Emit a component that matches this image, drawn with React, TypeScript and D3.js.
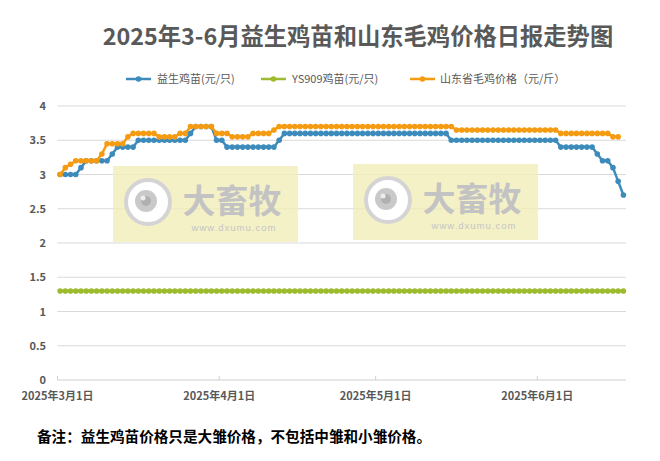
import React from "react";
import * as d3 from "d3";

// daily series, 2025-03-01 onward
const START = new Date(2025, 2, 1);
const END = new Date(2025, 5, 18);

const chickBlue = [
  3.0, 3.0, 3.0, 3.0, 3.1, 3.2, 3.2, 3.2, 3.2, 3.2,
  3.3, 3.4, 3.4, 3.4, 3.4, 3.5, 3.5, 3.5, 3.5, 3.5,
  3.5, 3.5, 3.5, 3.5, 3.5, 3.6, 3.7, 3.7, 3.7, 3.7,
  3.5, 3.5, 3.4, 3.4, 3.4, 3.4, 3.4, 3.4, 3.4, 3.4,
  3.4, 3.4, 3.5, 3.6, 3.6, 3.6, 3.6, 3.6, 3.6, 3.6,
  3.6, 3.6, 3.6, 3.6, 3.6, 3.6, 3.6, 3.6, 3.6, 3.6,
  3.6, 3.6, 3.6, 3.6, 3.6, 3.6, 3.6, 3.6, 3.6, 3.6,
  3.6, 3.6, 3.6, 3.6, 3.6, 3.5, 3.5, 3.5, 3.5, 3.5,
  3.5, 3.5, 3.5, 3.5, 3.5, 3.5, 3.5, 3.5, 3.5, 3.5,
  3.5, 3.5, 3.5, 3.5, 3.5, 3.5, 3.4, 3.4, 3.4, 3.4,
  3.4, 3.4, 3.4, 3.3, 3.2, 3.2, 3.1, 2.9, 2.7,
];

const ys909 = [
  1.3, 1.3, 1.3, 1.3, 1.3, 1.3, 1.3, 1.3, 1.3, 1.3,
  1.3, 1.3, 1.3, 1.3, 1.3, 1.3, 1.3, 1.3, 1.3, 1.3,
  1.3, 1.3, 1.3, 1.3, 1.3, 1.3, 1.3, 1.3, 1.3, 1.3,
  1.3, 1.3, 1.3, 1.3, 1.3, 1.3, 1.3, 1.3, 1.3, 1.3,
  1.3, 1.3, 1.3, 1.3, 1.3, 1.3, 1.3, 1.3, 1.3, 1.3,
  1.3, 1.3, 1.3, 1.3, 1.3, 1.3, 1.3, 1.3, 1.3, 1.3,
  1.3, 1.3, 1.3, 1.3, 1.3, 1.3, 1.3, 1.3, 1.3, 1.3,
  1.3, 1.3, 1.3, 1.3, 1.3, 1.3, 1.3, 1.3, 1.3, 1.3,
  1.3, 1.3, 1.3, 1.3, 1.3, 1.3, 1.3, 1.3, 1.3, 1.3,
  1.3, 1.3, 1.3, 1.3, 1.3, 1.3, 1.3, 1.3, 1.3, 1.3,
  1.3, 1.3, 1.3, 1.3, 1.3, 1.3, 1.3, 1.3, 1.3,
];

const broilerOrange = [
  3.0, 3.1, 3.15, 3.2, 3.2, 3.2, 3.2, 3.2, 3.3, 3.45,
  3.45, 3.45, 3.45, 3.55, 3.6, 3.6, 3.6, 3.6, 3.6, 3.55,
  3.55, 3.55, 3.55, 3.6, 3.6, 3.7, 3.7, 3.7, 3.7, 3.7,
  3.6, 3.6, 3.6, 3.55, 3.55, 3.55, 3.55, 3.6, 3.6, 3.6,
  3.6, 3.65, 3.7, 3.7, 3.7, 3.7, 3.7, 3.7, 3.7, 3.7,
  3.7, 3.7, 3.7, 3.7, 3.7, 3.7, 3.7, 3.7, 3.7, 3.7,
  3.7, 3.7, 3.7, 3.7, 3.7, 3.7, 3.7, 3.7, 3.7, 3.7,
  3.7, 3.7, 3.7, 3.7, 3.7, 3.7, 3.65, 3.65, 3.65, 3.65,
  3.65, 3.65, 3.65, 3.65, 3.65, 3.65, 3.65, 3.65, 3.65, 3.65,
  3.65, 3.65, 3.65, 3.65, 3.65, 3.65, 3.6, 3.6, 3.6, 3.6,
  3.6, 3.6, 3.6, 3.6, 3.6, 3.6, 3.55, 3.55,
];

const yTicks = [0, 0.5, 1, 1.5, 2, 2.5, 3, 3.5, 4];
const xTicks = [new Date(2025, 2, 1), new Date(2025, 3, 1), new Date(2025, 4, 1), new Date(2025, 5, 1)];
const xTickLabels = ["2025年3月1日", "2025年4月1日", "2025年5月1日", "2025年6月1日"];

const seriesNames = ["益生鸡苗(元/只)", "YS909鸡苗(元/只)", "山东省毛鸡价格（元/斤）"];
const colors = ["#3d8bbb", "#9dbb2d", "#f59b12"];

const FONT = "'Noto Sans CJK SC', 'Noto Sans', sans-serif";

const W = 660;
const H = 461;

const x = d3.scaleTime().domain([START, END]).range([57.5, 626]);
const y = d3.scaleLinear().domain([0, 4]).range([380, 106]);

const dayAt = (i: number) => d3.timeHour.offset(d3.timeDay.offset(START, i), 12);

const line = d3
  .line<number>()
  .x((_, i) => x(dayAt(i)))
  .y((d) => y(d));

const Watermark: React.FC<{ dx: number; dy: number }> = ({ dx, dy }) => (
  <g transform={`translate(${dx},${dy})`}>
    <rect x={113} y={166} width={185} height={76} fill="#f3edb9" opacity={0.8} />
    <circle cx={148} cy={202} r={22} fill="#ffffff" stroke="#d4d4d4" strokeWidth={4} />
    <circle cx={146} cy={201} r={11} fill="#c9c9c9" />
    <circle cx={146} cy={201} r={5} fill="#b0b0b0" />
    <circle cx={143} cy={198} r={2.5} fill="#ededed" />
    <text x={232} y={213} textAnchor="middle" fontSize={33} fontWeight={700} fill="#c3c3c3" fontFamily={FONT}>
      大畜牧
    </text>
    <text x={234} y={231} textAnchor="middle" fontSize={9.5} letterSpacing={1} fill="#c4c4c4" fontFamily="Arial, 'Liberation Sans', sans-serif">
      www.dxumu.com
    </text>
  </g>
);

const Series: React.FC<{ data: number[]; color: string }> = ({ data, color }) => (
  <g>
    <path d={line(data) || ""} fill="none" stroke={color} strokeWidth={2.5} strokeLinejoin="round" />
    {data.map((v, i) => (
      <circle key={i} cx={x(dayAt(i))} cy={y(v)} r={2.8} fill={color} />
    ))}
  </g>
);

const legendItems = [
  { x: 126, tx: 157 },
  { x: 261, tx: 292 },
  { x: 410, tx: 440 },
];

export default function App() {
  return (
    <svg
      width={W}
      height={H}
      style={{ position: "absolute", left: 0, top: 0, background: "#fff" }}
      fontFamily={FONT}
    >
      <text x={358} y={45} textAnchor="middle" fontSize={23.3} fontWeight={700} fill="#595959">
        2025年3-6月益生鸡苗和山东毛鸡价格日报走势图
      </text>

      {/* legend */}
      {seriesNames.map((name, i) => (
        <g key={name}>
          <line x1={legendItems[i].x} x2={legendItems[i].x + 25} y1={79} y2={79} stroke={colors[i]} strokeWidth={2.5} />
          <circle cx={legendItems[i].x + 12.5} cy={79} r={2.8} fill={colors[i]} />
          <text x={legendItems[i].tx} y={83} fontSize={11} fill="#595959">
            {name}
          </text>
        </g>
      ))}

      {/* grid */}
      {yTicks.map((t) => (
        <g key={t}>
          {t > 0 && <line x1={57.5} x2={626} y1={y(t)} y2={y(t)} stroke="#d9d9d9" strokeWidth={1} />}
          <text x={46} y={y(t) + 4} textAnchor="end" fontSize={11} fontWeight={700} fill="#595959">
            {t}
          </text>
        </g>
      ))}

      <Watermark dx={0} dy={0} />
      <Watermark dx={240} dy={-2} />

      {/* x axis */}
      <line x1={57.5} x2={626} y1={380} y2={380} stroke="#d0d0d0" strokeWidth={1} />
      {xTicks.map((t, i) => (
        <g key={i}>
          <line x1={x(t)} x2={x(t)} y1={376} y2={380} stroke="#d0d0d0" />
          <text x={x(t)} y={400} textAnchor="middle" fontSize={11} fontWeight={700} fill="#595959">
            {xTickLabels[i]}
          </text>
        </g>
      ))}

      <Series data={ys909} color={colors[1]} />
      <Series data={chickBlue} color={colors[0]} />
      <Series data={broilerOrange} color={colors[2]} />

      <text x={37} y={442} fontSize={14.6} fontWeight={700} fill="#000">
        备注：益生鸡苗价格只是大雏价格，不包括中雏和小雏价格。
      </text>
    </svg>
  );
}
